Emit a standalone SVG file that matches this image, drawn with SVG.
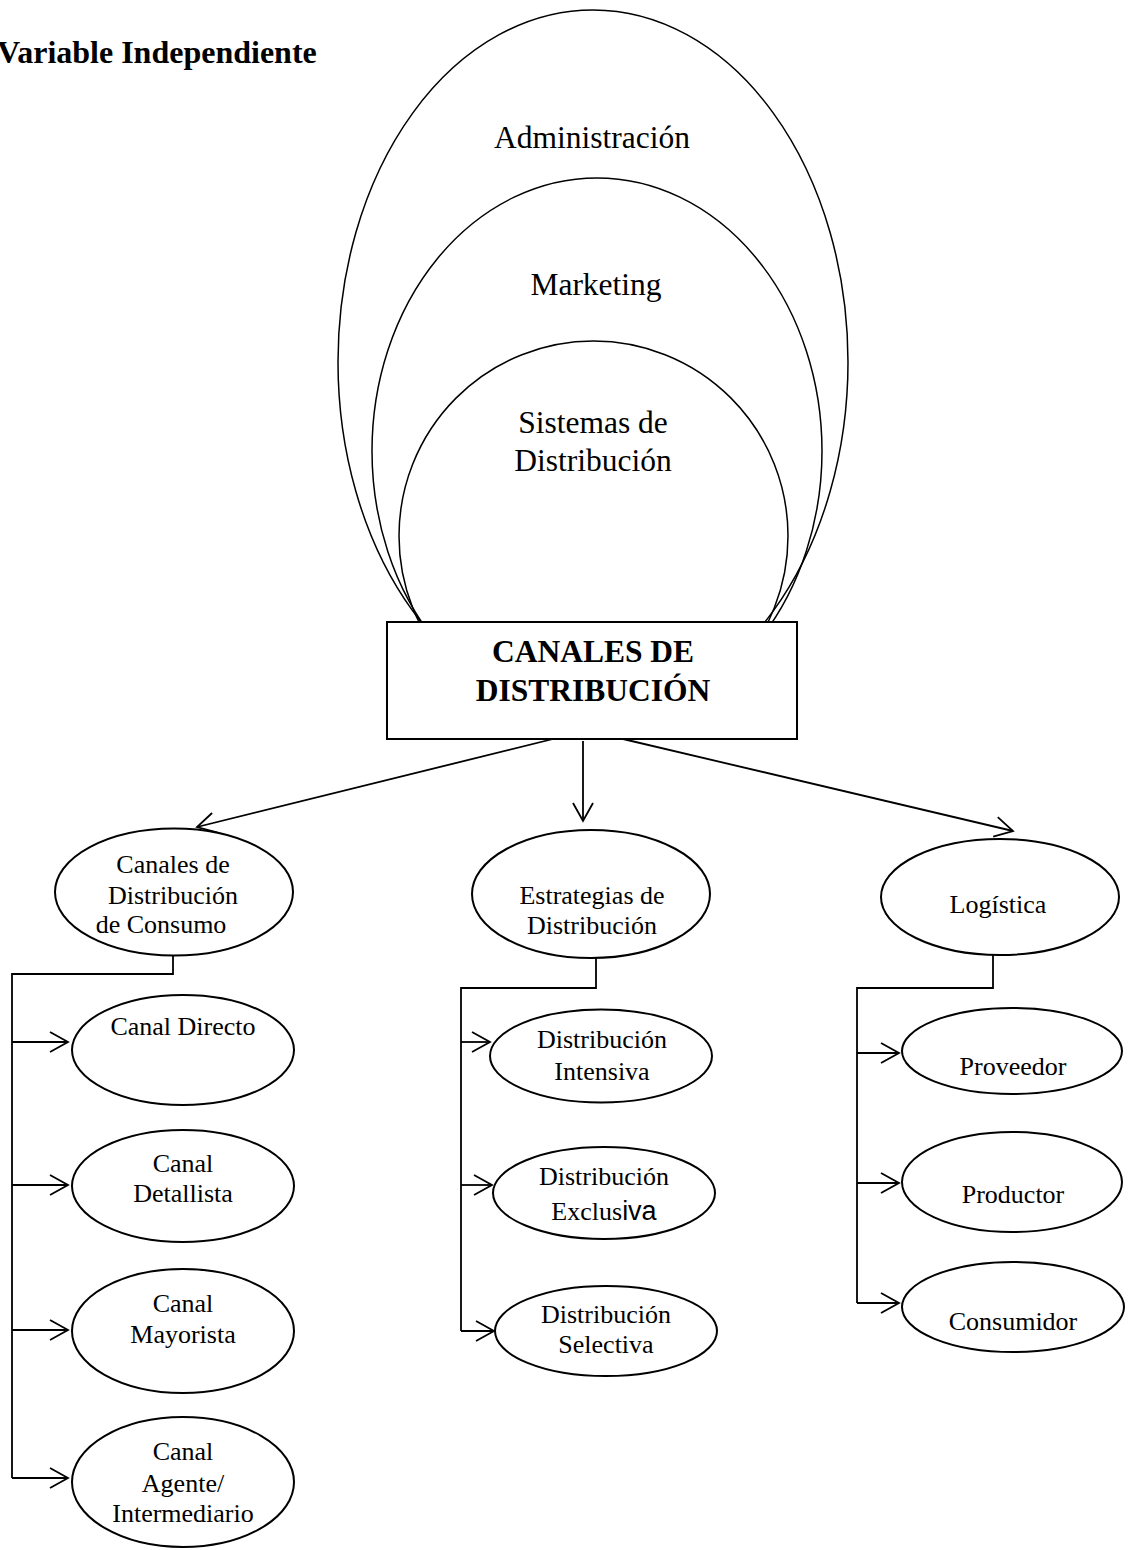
<svg xmlns="http://www.w3.org/2000/svg" width="1129" height="1550" viewBox="0 0 1129 1550">
  <style>
    text { font-family: "Liberation Serif", "Times New Roman", serif; fill: #000; text-anchor: middle; }
    .title { font-size: 32px; font-weight: bold; text-anchor: start; }
    .big { font-size: 31.5px; }
    .head { font-size: 31.5px; font-weight: bold; }
    .lbl { font-size: 26px; }
    .ring { fill: none; stroke: #000; stroke-width: 1.5; }
    .node { fill: #fff; stroke: #000; stroke-width: 2; }
    .box { fill: #fff; stroke: #000; stroke-width: 2; }
    .wire { fill: none; stroke: #000; stroke-width: 1.8; }
    .arrow { fill: none; stroke: #000; stroke-width: 1.8; marker-end: url(#open); }
  </style>
  <defs>
    <marker id="open" markerUnits="userSpaceOnUse" orient="auto" markerWidth="24" markerHeight="24" refX="18" refY="10" overflow="visible">
      <path d="M0,0 L18,10 L0,20" fill="none" stroke="#000" stroke-width="1.8"/>
    </marker>
  </defs>
  <rect width="1129" height="1550" fill="#fff"/>

  <text class="title" x="-3" y="63">Variable Independiente</text>

  <!-- nested scopes -->
  <g id="administracion">
    <ellipse class="ring" cx="593" cy="362" rx="255" ry="352"/>
    <text class="big" x="592" y="148">Administración</text>
  </g>
  <g id="marketing">
    <ellipse class="ring" cx="597" cy="451" rx="225" ry="273"/>
    <text class="big" x="596" y="295">Marketing</text>
  </g>
  <g id="sistemas">
    <ellipse class="ring" cx="593.5" cy="536" rx="194.5" ry="195"/>
    <text class="big" x="593" y="433">Sistemas de</text>
    <text class="big" x="593" y="471">Distribución</text>
  </g>

  <g id="canales">
    <rect class="box" x="387" y="622" width="410" height="117"/>
    <text class="head" x="593" y="662">CANALES DE</text>
    <text class="head" x="593" y="701">DISTRIBUCIÓN</text>
  </g>

  <!-- connectors -->
  <g id="connectors">
    <line class="arrow" x1="553" y1="739" x2="197" y2="827"/>
    <line class="arrow" x1="583" y1="741" x2="583" y2="821"/>
    <line class="arrow" x1="623" y1="739" x2="1013" y2="831"/>

    <polyline class="wire" points="173,956 173,974 12,974 12,1478"/>
    <line class="arrow" x1="12" y1="1042" x2="68" y2="1042"/>
    <line class="arrow" x1="12" y1="1185" x2="68" y2="1185"/>
    <line class="arrow" x1="12" y1="1330" x2="68" y2="1330"/>
    <line class="arrow" x1="12" y1="1478" x2="68" y2="1478"/>

    <polyline class="wire" points="596,958 596,988 461,988 461,1331"/>
    <line class="arrow" x1="461" y1="1042" x2="490" y2="1042"/>
    <line class="arrow" x1="461" y1="1185" x2="492" y2="1185"/>
    <line class="arrow" x1="461" y1="1331" x2="494" y2="1331"/>

    <polyline class="wire" points="993,955 993,988 857,988 857,1303"/>
    <line class="arrow" x1="857" y1="1053" x2="899" y2="1053"/>
    <line class="arrow" x1="857" y1="1183" x2="899" y2="1183"/>
    <line class="arrow" x1="857" y1="1303" x2="899" y2="1303"/>
  </g>

  <!-- second level -->
  <g id="consumo">
    <ellipse class="node" cx="174" cy="892" rx="119" ry="63.5"/>
    <text class="lbl" x="173" y="873">Canales de</text>
    <text class="lbl" x="173" y="904">Distribución</text>
    <text class="lbl" x="161" y="933">de Consumo</text>
  </g>
  <g id="estrategias">
    <ellipse class="node" cx="591" cy="894" rx="119" ry="64"/>
    <text class="lbl" x="592" y="904">Estrategias de</text>
    <text class="lbl" x="592" y="934">Distribución</text>
  </g>
  <g id="logistica">
    <ellipse class="node" cx="1000" cy="897" rx="119" ry="58"/>
    <text class="lbl" x="998" y="913">Logística</text>
  </g>

  <!-- channels -->
  <g id="directo">
    <ellipse class="node" cx="183" cy="1050" rx="111" ry="55"/>
    <text class="lbl" x="183" y="1035">Canal Directo</text>
  </g>
  <g id="detallista">
    <ellipse class="node" cx="183" cy="1186" rx="111" ry="56"/>
    <text class="lbl" x="183" y="1172">Canal</text>
    <text class="lbl" x="183" y="1202">Detallista</text>
  </g>
  <g id="mayorista">
    <ellipse class="node" cx="183" cy="1331" rx="111" ry="62"/>
    <text class="lbl" x="183" y="1312">Canal</text>
    <text class="lbl" x="183" y="1343">Mayorista</text>
  </g>
  <g id="agente">
    <ellipse class="node" cx="183" cy="1482" rx="111" ry="65"/>
    <text class="lbl" x="183" y="1460">Canal</text>
    <text class="lbl" x="183" y="1492">Agente/</text>
    <text class="lbl" x="183" y="1522">Intermediario</text>
  </g>

  <!-- strategies -->
  <g id="intensiva">
    <ellipse class="node" cx="601" cy="1056" rx="111" ry="46.5"/>
    <text class="lbl" x="602" y="1048">Distribución</text>
    <text class="lbl" x="602" y="1080">Intensiva</text>
  </g>
  <g id="exclusiva">
    <ellipse class="node" cx="604" cy="1193" rx="111" ry="46"/>
    <text class="lbl" x="604" y="1185">Distribución</text>
    <text class="lbl" x="604" y="1220">Exclus<tspan font-family="Liberation Sans, Arial, sans-serif" font-size="27px">iva</tspan></text>
  </g>
  <g id="selectiva">
    <ellipse class="node" cx="606" cy="1331" rx="111" ry="45"/>
    <text class="lbl" x="606" y="1323">Distribución</text>
    <text class="lbl" x="606" y="1353">Selectiva</text>
  </g>

  <!-- logistics -->
  <g id="proveedor">
    <ellipse class="node" cx="1012" cy="1051" rx="110" ry="43"/>
    <text class="lbl" x="1013" y="1075">Proveedor</text>
  </g>
  <g id="productor">
    <ellipse class="node" cx="1012" cy="1182" rx="110" ry="50"/>
    <text class="lbl" x="1013" y="1203">Productor</text>
  </g>
  <g id="consumidor">
    <ellipse class="node" cx="1013" cy="1307" rx="111" ry="45"/>
    <text class="lbl" x="1013" y="1330">Consumidor</text>
  </g>
</svg>
